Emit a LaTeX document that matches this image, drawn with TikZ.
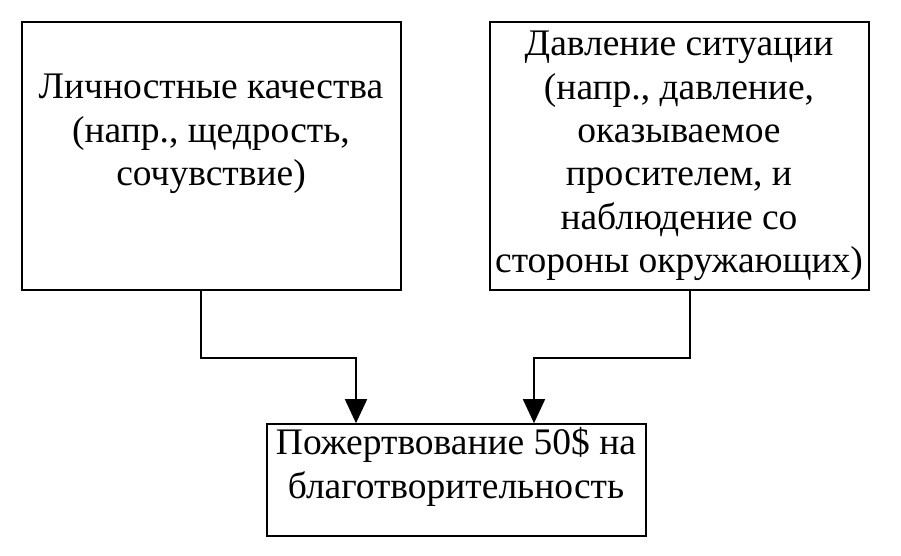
\documentclass[tikz,border=0pt]{standalone}
\usepackage{fontspec}
\setmainfont{Liberation Serif}
\usetikzlibrary{arrows.meta}
\begin{document}
\begin{tikzpicture}[x=1pt,y=-1pt,
  box/.style={draw,line width=1.6pt,inner sep=0pt,minimum width=379pt},
  txt/.style={align=center,inner sep=0pt,font=\fontsize{37.5}{43.4}\selectfont},
  conn/.style={line width=1.6pt,-{Triangle[width=22pt,length=24pt]}}]
\useasboundingbox (0,0) rectangle (901,555);
\node[box,minimum height=268pt] (L) at (211.5,156) {};
\node[box,minimum height=268pt] (R) at (679.5,156) {};
\node[box,minimum height=112pt] (B) at (456.5,480) {};
\node[txt] (Lt) at (211,134) {Личностные качества\\(напр., щедрость,\\сочувствие)};
\node[txt] (Rt) at (679,156) {Давление ситуации\\(напр., давление,\\оказываемое\\просителем, и\\наблюдение со\\стороны окружающих)};
\node[txt] (Bt) at (456,467) {Пожертвование 50\$ на\\благотворительность};
\draw[conn] ([xshift=-10.5pt]L.south) -- ++(0,67) -| ([xshift=-100.5pt]B.north);
\draw[conn] ([xshift=10.5pt]R.south) -- ++(0,67) -| ([xshift=77.5pt]B.north);
\end{tikzpicture}
\end{document}
